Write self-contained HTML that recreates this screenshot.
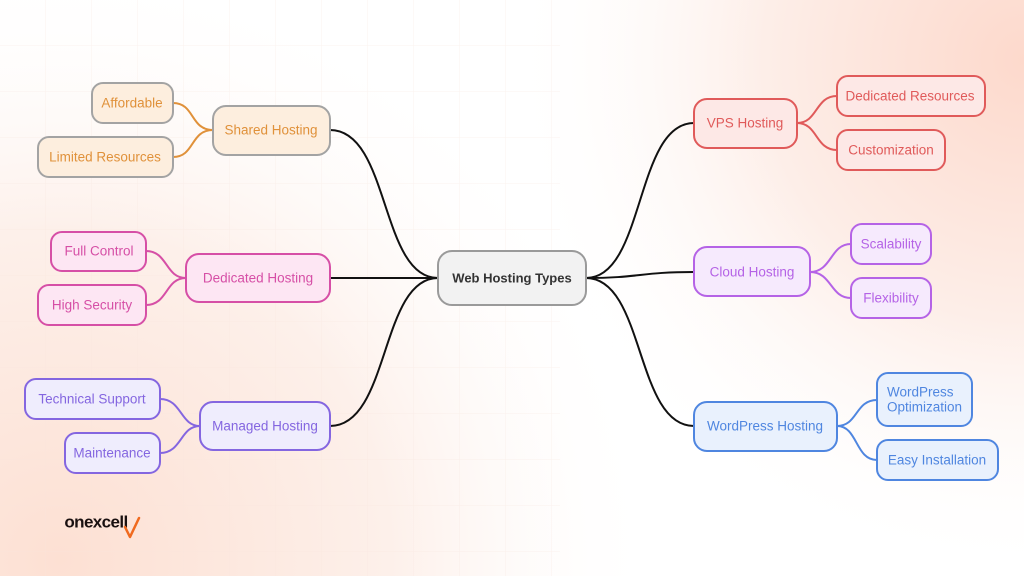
<!DOCTYPE html>
<html><head><meta charset="utf-8"><style>
html,body{margin:0;padding:0;width:1024px;height:576px;overflow:hidden;background:#fff}
svg{display:block}
text{font-family:"Liberation Sans",sans-serif;font-size:13.5px;text-anchor:middle;dominant-baseline:central}
</style></head><body>
<svg width="1024" height="576" viewBox="0 0 1024 576">
<defs>
<radialGradient id="tr" cx="1024" cy="60" r="520" gradientUnits="userSpaceOnUse">
<stop offset="0" stop-color="#fdd9cc"/><stop offset="0.5" stop-color="#fdeee8"/><stop offset="1" stop-color="#fff" stop-opacity="0"/></radialGradient>
<radialGradient id="bl" cx="60" cy="560" r="600" gradientUnits="userSpaceOnUse">
<stop offset="0" stop-color="#fde0d3"/><stop offset="0.55" stop-color="#fdf0ea"/><stop offset="1" stop-color="#fff" stop-opacity="0"/></radialGradient>
<pattern id="grid" width="46" height="46" patternUnits="userSpaceOnUse"><path d="M46 0V46M0 46H46" stroke="#f6e4dc" stroke-width="1" fill="none"/></pattern>
</defs>
<rect width="1024" height="576" fill="#fff"/>
<rect width="1024" height="576" fill="url(#bl)"/>
<rect width="1024" height="576" fill="url(#tr)"/>
<rect x="0" y="0" width="560" height="576" fill="url(#grid)" opacity="0.45"/>

<g fill="none" stroke="#111" stroke-width="2">
<path d="M438 278 C380 278 390 130 330 130"/>
<path d="M438 278 H330"/>
<path d="M438 278 C380 278 390 426 330 426"/>
<path d="M586 278 C645 278 635 123 694 123"/>
<path d="M586 278 C640 278 640 272 694 272"/>
<path d="M586 278 C645 278 635 426 694 426"/>
</g>
<g fill="none" stroke-width="2">
<path stroke="#e0913a" d="M213 130 C190 130 195 103 173 103 M213 130 C190 130 195 157 173 157"/>
<path stroke="#d64fa6" d="M186 278 C165 278 168 251 146 251 M186 278 C165 278 168 305 146 305"/>
<path stroke="#8466e0" d="M200 426 C180 426 182 399 160 399 M200 426 C180 426 182 453 160 453"/>
<path stroke="#e05a5a" d="M797 123 C818 123 815 96 837 96 M797 123 C818 123 815 150 837 150"/>
<path stroke="#b563e6" d="M810 272 C832 272 830 244 851 244 M810 272 C832 272 830 298 851 298"/>
<path stroke="#4f86e0" d="M837 426 C858 426 855 400 877 400 M837 426 C858 426 855 460 877 460"/>
</g>

<g stroke-width="2">
<rect x="438" y="251" width="148" height="54" rx="14" fill="#f2f2f2" stroke="#9a9a9a"/>
<rect x="213" y="106" width="117" height="49" rx="13" fill="#fdeede" stroke="#a3a3a3"/>
<rect x="92" y="83" width="81" height="40" rx="11" fill="#fdeede" stroke="#a3a3a3"/>
<rect x="38" y="137" width="135" height="40" rx="11" fill="#fdeede" stroke="#a3a3a3"/>
<rect x="186" y="254" width="144" height="48" rx="13" fill="#fde6f3" stroke="#d64fa6"/>
<rect x="51" y="232" width="95" height="39" rx="11" fill="#fde6f3" stroke="#d64fa6"/>
<rect x="38" y="285" width="108" height="40" rx="11" fill="#fde6f3" stroke="#d64fa6"/>
<rect x="200" y="402" width="130" height="48" rx="13" fill="#efedfd" stroke="#8466e0"/>
<rect x="25" y="379" width="135" height="40" rx="11" fill="#efedfd" stroke="#8466e0"/>
<rect x="65" y="433" width="95" height="40" rx="11" fill="#efedfd" stroke="#8466e0"/>
<rect x="694" y="99" width="103" height="49" rx="13" fill="#fde8e6" stroke="#e05a5a"/>
<rect x="837" y="76" width="148" height="40" rx="11" fill="#fde8e6" stroke="#e05a5a"/>
<rect x="837" y="130" width="108" height="40" rx="11" fill="#fde8e6" stroke="#e05a5a"/>
<rect x="694" y="247" width="116" height="49" rx="13" fill="#f6eafd" stroke="#b563e6"/>
<rect x="851" y="224" width="80" height="40" rx="11" fill="#f6eafd" stroke="#b563e6"/>
<rect x="851" y="278" width="80" height="40" rx="11" fill="#f6eafd" stroke="#b563e6"/>
<rect x="694" y="402" width="143" height="49" rx="13" fill="#e9f1fd" stroke="#4f86e0"/>
<rect x="877" y="373" width="95" height="53" rx="11" fill="#e9f1fd" stroke="#4f86e0"/>
<rect x="877" y="440" width="121" height="40" rx="11" fill="#e9f1fd" stroke="#4f86e0"/>
</g>

<text x="512" y="278" fill="#333" font-weight="bold" style="font-size:13px">Web Hosting Types</text>
<g fill="#e0913a"><text x="271" y="130">Shared Hosting</text><text x="132" y="103">Affordable</text><text x="105" y="157">Limited Resources</text></g>
<g fill="#d64fa6"><text x="258" y="278">Dedicated Hosting</text><text x="99" y="251">Full Control</text><text x="92" y="305">High Security</text></g>
<g fill="#8466e0"><text x="265" y="426">Managed Hosting</text><text x="92" y="399">Technical Support</text><text x="112" y="453">Maintenance</text></g>
<g fill="#e05a5a"><text x="745" y="123">VPS Hosting</text><text x="910" y="96">Dedicated Resources</text><text x="891" y="150">Customization</text></g>
<g fill="#b563e6"><text x="752" y="272">Cloud Hosting</text><text x="891" y="244">Scalability</text><text x="891" y="298">Flexibility</text></g>
<g fill="#4f86e0"><text x="765" y="426">WordPress Hosting</text>
<text x="887" y="392" style="text-anchor:start">WordPress</text><text x="887" y="407" style="text-anchor:start">Optimization</text>
<text x="937" y="460">Easy Installation</text></g>

<text x="96" y="522" fill="#1a1010" font-weight="bold" style="font-size:17px;letter-spacing:-0.6px">onexcell</text>
<path d="M125 527 L130 537 L139 518" fill="none" stroke="#f06a1f" stroke-width="2.5" stroke-linecap="round" stroke-linejoin="round"/>
</svg>
</body></html>
